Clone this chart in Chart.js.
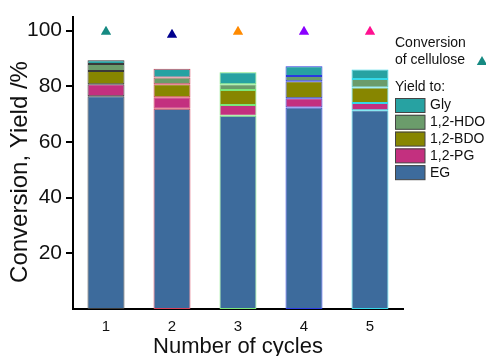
<!DOCTYPE html>
<html>
<head>
<meta charset="utf-8">
<script src="https://cdn.jsdelivr.net/npm/chart.js@4/dist/chart.umd.min.js"></script>
<style>
  html, body { margin: 0; padding: 0; background: #fff; }
  #wrap { width: 486px; height: 356px; position: relative; }
</style>
</head>
<body>
<div id="wrap"><canvas id="c" width="486" height="356"></canvas></div>
<script>
// Catalyst recycling: cellulose conversion and product yields per cycle (%)
const cycles = ['1', '2', '3', '4', '5'];
const conversion = [99.6, 98.5, 99.6, 99.6, 99.6];
const yieldEG  = [76.4, 71.9, 69.4, 72.4, 71.4];
const yieldPG  = [4.3, 4.1, 3.9, 3.3, 2.6];
const yieldBDO = [4.8, 4.7, 5.3, 6.1, 5.5];
const yieldHDO = [2.5, 2.4, 2.1, 1.9, 3.1];
const yieldGly = [1.3, 3.2, 4.3, 3.5, 3.4];
const yTicks = [20, 40, 60, 80, 100];

const FONT = '"Liberation Sans", Arial, sans-serif';
const edgeColors = ['#3a3a3a', '#d8405a', '#7be87b', '#2a3ae0', '#35d8e8'];
const markerColors = ['#168a82', '#00008e', '#ff8a00', '#8a00ff', '#ff1090'];

function barSet(label, data, color) {
  return {
    type: 'bar', label, data, stack: 'yield',
    backgroundColor: color, borderColor: edgeColors, borderWidth: 1,
    borderSkipped: false, categoryPercentage: 1, barPercentage: 0.56, order: 2
  };
}

const yieldSets = [
  barSet('EG', yieldEG, '#3d6b9c'),
  barSet('1,2-PG', yieldPG, '#c3307f'),
  barSet('1,2-BDO', yieldBDO, '#878600'),
  barSet('1,2-HDO', yieldHDO, '#6b9c6b'),
  barSet('Gly', yieldGly, '#27a2a2')
];

// legend, drawn at the right of the plot
const sideLegend = {
  id: 'sideLegend',
  afterDraw(chart) {
    const ctx = chart.ctx;
    ctx.save();
    ctx.font = '14px ' + FONT;
    ctx.fillStyle = '#111';
    ctx.textBaseline = 'middle';
    ctx.textAlign = 'left';
    const x = 395;
    ctx.fillText('Conversion', x, 43);
    ctx.fillText('of cellulose', x, 60);
    const tx = 482, ty = 62, r = 6;
    ctx.fillStyle = markerColors[0];
    ctx.beginPath();
    ctx.moveTo(tx, ty - r);
    ctx.lineTo(tx + r * 0.866, ty + r / 2);
    ctx.lineTo(tx - r * 0.866, ty + r / 2);
    ctx.closePath();
    ctx.fill();
    ctx.fillStyle = '#111';
    ctx.fillText('Yield to:', x, 87);
    const rows = yieldSets.slice().reverse();
    rows.forEach((ds, i) => {
      const y = 98 + i * 16.8;
      ctx.fillStyle = ds.backgroundColor;
      ctx.fillRect(x, y, 30, 14.5);
      ctx.strokeStyle = '#444';
      ctx.lineWidth = 1;
      ctx.strokeRect(x + 0.5, y + 0.5, 29.5, 14);
      ctx.fillStyle = '#111';
      ctx.fillText(ds.label, x + 35, y + 7.5);
    });
    // rotated y-axis title
    ctx.save();
    ctx.translate(20, 172);
    ctx.rotate(-Math.PI / 2);
    ctx.textAlign = 'center';
    ctx.font = '24px ' + FONT;
    ctx.fillText('Conversion, Yield /%', 0, 0);
    ctx.restore();
    ctx.restore();
  }
};

new Chart(document.getElementById('c'), {
  data: {
    labels: cycles,
    datasets: [
      {
        type: 'line', label: 'Conversion of cellulose', data: conversion,
        stack: 'conv', showLine: false, pointStyle: 'triangle', pointRadius: 6,
        pointHoverRadius: 6, pointBorderWidth: 0,
        pointBackgroundColor: markerColors, pointBorderColor: markerColors, order: 1
      },
      ...yieldSets
    ]
  },
  options: {
    responsive: false,
    animation: false,
    events: [],
    layout: { padding: { left: 0, right: 83, top: 16, bottom: 0 } },
    plugins: { legend: { display: false }, tooltip: { enabled: false } },
    scales: {
      x: {
        stacked: true,
        grid: { display: true, drawOnChartArea: false, drawTicks: false },
        border: { display: true, color: '#000', width: 2 },
        ticks: { color: '#111', font: { family: FONT, size: 15 }, padding: 9 },
        title: { display: true, text: 'Number of cycles', color: '#111',
                 font: { family: FONT, size: 22, lineHeight: 1 }, padding: { top: 0, bottom: -2 } },
        afterFit(s) { s.height = 47; }
      },
      y: {
        stacked: true, min: 0, max: 105,
        grid: { drawOnChartArea: false, drawTicks: true, tickLength: 7, color: '#000', lineWidth: 2 },
        border: { display: true, color: '#000', width: 2 },
        ticks: { color: '#111', font: { family: FONT, size: 21 }, padding: 4, stepSize: 20 },
        afterBuildTicks(s) { s.ticks = yTicks.map(v => ({ value: v })); },
        afterFit(s) { s.width = 73; }
      }
    }
  },
  plugins: [sideLegend]
});
</script>
</body>
</html>
